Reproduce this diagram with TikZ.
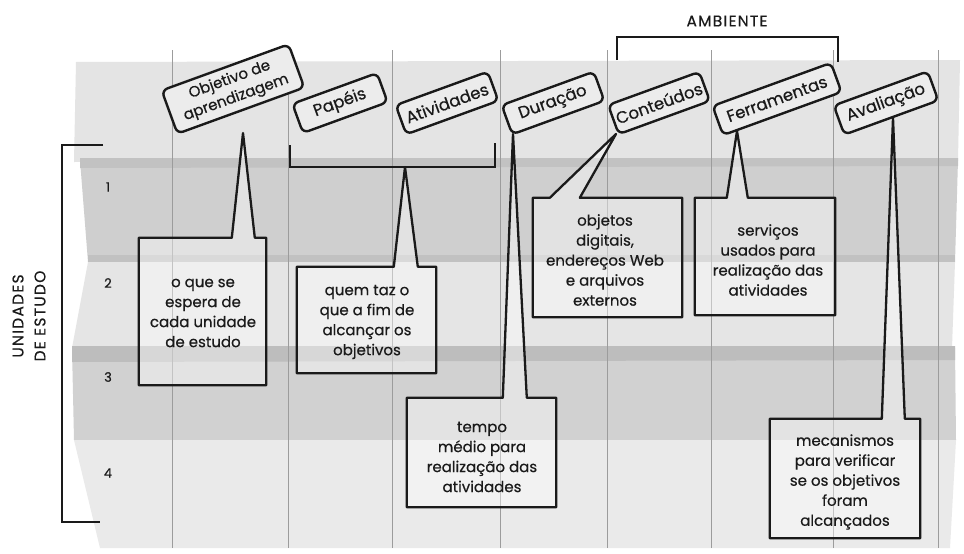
\documentclass[tikz,border=0pt]{standalone}
\usepackage{fontspec}
\setmainfont{Poppins}[FakeBold=0.5]
\newfontfamily\capsfont{Poppins}[LetterSpace=8,FakeBold=0.3]
\usetikzlibrary{calc}
\definecolor{ink}{HTML}{1A1A1A}
\definecolor{tagfill}{HTML}{ECECEC}
\definecolor{gridc}{HTML}{9C9C9C}
\definecolor{bandA}{HTML}{E4E4E4}
\definecolor{bandB}{HTML}{CFCFCF}
\definecolor{bandC}{HTML}{E5E5E5}
\definecolor{bandD}{HTML}{D1D1D1}
\definecolor{bandE}{HTML}{EAEAEA}
\definecolor{stripe}{HTML}{BDBDBD}
\begin{document}
\begin{tikzpicture}[x=1pt,y=-1pt,
  tag/.style={draw=ink, line width=2.4pt, rounded corners=6pt, fill=tagfill,
    rotate=20, align=center, text=ink, font=\fontsize{16.5}{19}\selectfont,
    minimum height=31pt, inner xsep=3pt, inner ysep=2pt},
  callout/.style={draw=ink, line width=2.3pt, line join=round, fill=white, fill opacity=0.4},
  cbox/.style={align=center, text=ink, font=\fontsize{15}{20}\selectfont, inner sep=0pt},
  brack/.style={draw=ink, line width=2.3pt},
  gridline/.style={draw=gridc, line width=1pt},
  rownum/.style={text=ink, font=\fontsize{13}{15}\selectfont},
  capfont/.style={text=ink, align=center, font=\capsfont\fontsize{15.5}{22}\selectfont}
]
\useasboundingbox (0,0) rectangle (964,554);
\fill[white] (0,0) rectangle (964,554);

% background bands
\fill[bandA] (76,62) -- (960,60) -- (958,160) -- (74,162) -- cycle;
\fill[bandB] (80,160) -- (958,160) -- (955,262) -- (88,262) -- cycle;
\fill[stripe!70!bandB] (80,158) -- (958,158) -- (958,166) -- (80,168) -- cycle;
\fill[stripe!80!bandB] (88,255) -- (955,255) -- (955,263) -- (88,263) -- cycle;
\fill[bandC] (88,262) -- (955,262) -- (952,348) -- (72,348) -- cycle;
\fill[bandD] (72,348) -- (955,348) -- (956,440) -- (74,440) -- cycle;
\fill[stripe] (72,346) -- (955,346) -- (955,360) -- (72,362) -- cycle;
\fill[bandE] (74,440) -- (956,440) -- (950,548) -- (100,548) -- cycle;

% grid lines
\foreach \gx in {172,288,392,500,607,711,833,938}
  \draw[gridline] (\gx,50) -- (\gx,548);

% left bracket and title
\draw[brack] (103,145) -- (62,145) -- (62,522) -- (100,522);
\node[capfont, rotate=90] (units) at (29,316) {UNIDADES\\DE ESTUDO};
\node[rownum] (r1) at (108,187) {1};
\node[rownum] (r2) at (108,283) {2};
\node[rownum] (r3) at (108,377) {3};
\node[rownum] (r4) at (108,473) {4};

% AMBIENTE bracket
\node[capfont] (amb) at (727,21) {AMBIENTE};
\draw[brack] (617,60) -- (617,37) -- (838,37) -- (838,62);

% Papéis / Atividades bracket
\coordinate (bpa) at (405,167);
\draw[brack] (290,145) -- (290,167) -- (bpa) -- (495,167) -- (495,143);

% tip coordinates
\coordinate (t1) at (243,133);
\coordinate (t3) at (513,134);
\coordinate (t4) at (616,134);
\coordinate (t5) at (737,131);
\coordinate (t6) at (893,118);

% callout boxes
\node[cbox, minimum width=127pt, minimum height=147pt] (c1) at (202.5,311.5) {};
\draw[callout] (c1.north west) -- ($(c1.north west)+(93,0)$) -- (t1) -- ($(c1.north west)+(116,0)$) -- (c1.north east) -- (c1.south east) -- (c1.south west) -- cycle;
\node[cbox] at (203,313) {o que se\\espera de\\cada unidade\\de estudo};

\node[cbox, minimum width=139pt, minimum height=106pt] (c2) at (366.5,320) {};
\draw[callout] (c2.north west) -- ($(c2.north west)+(97,0)$) -- (bpa) -- ($(c2.north west)+(121,0)$) -- (c2.north east) -- (c2.south east) -- (c2.south west) -- cycle;
\node[cbox] at (367,322) {quem taz o\\que a fim de\\alcançar os\\objetivos};

\node[cbox, minimum width=149pt, minimum height=109pt] (c3) at (481.5,452.5) {};
\draw[callout] (c3.north west) -- ($(c3.north west)+(96,0)$) -- (t3) -- ($(c3.north west)+(120,0)$) -- (c3.north east) -- (c3.south east) -- (c3.south west) -- cycle;
\node[cbox] at (482,457) {tempo\\médio para\\realização das\\atividades};

\node[cbox, minimum width=149pt, minimum height=119pt] (c4) at (607.5,257.5) {};
\draw[callout] (c4.north west) -- ($(c4.north west)+(17,0)$) -- (t4) -- ($(c4.north west)+(47,0)$) -- (c4.north east) -- (c4.south east) -- (c4.south west) -- cycle;
\node[cbox] at (605,260) {objetos\\digitais,\\endereços Web\\e arquivos\\externos};

\node[cbox, minimum width=140pt, minimum height=117pt] (c5) at (765,256.5) {};
\draw[callout] (c5.north west) -- ($(c5.north west)+(32,0)$) -- (t5) -- ($(c5.north west)+(53,0)$) -- (c5.north east) -- (c5.south east) -- (c5.south west) -- cycle;
\node[cbox] at (768,260) {serviços\\usados para\\realização das\\atividades};

\node[cbox, minimum width=150pt, minimum height=119pt] (c6) at (845,478.5) {};
\draw[callout] (c6.north west) -- ($(c6.north west)+(112,0)$) -- (t6) -- ($(c6.north west)+(135,0)$) -- (c6.north east) -- (c6.south east) -- (c6.south west) -- cycle;
\node[cbox] at (845,482) {mecanismos\\para verificar\\se os objetivos\\foram\\alcançados};

% tilted header tags
\node[tag, minimum width=135pt, minimum height=46pt, font=\fontsize{15}{19}\selectfont] (obj) at (233,89) {Objetivo de\\aprendizagem};
\node[tag, minimum width=90pt] (pap) at (340,103) {Papéis};
\node[tag, minimum width=98pt] (ati) at (447,103) {Atividades};
\node[tag, minimum width=98pt] (dur) at (553,103) {Duração};
\node[tag, minimum width=97pt] (con) at (659,103) {Conteúdos};
\node[tag, minimum width=126pt] (fer) at (777,99) {Ferramentas};
\node[tag, minimum width=100pt] (ava) at (886,103) {Avaliação};
\end{tikzpicture}
\end{document}
